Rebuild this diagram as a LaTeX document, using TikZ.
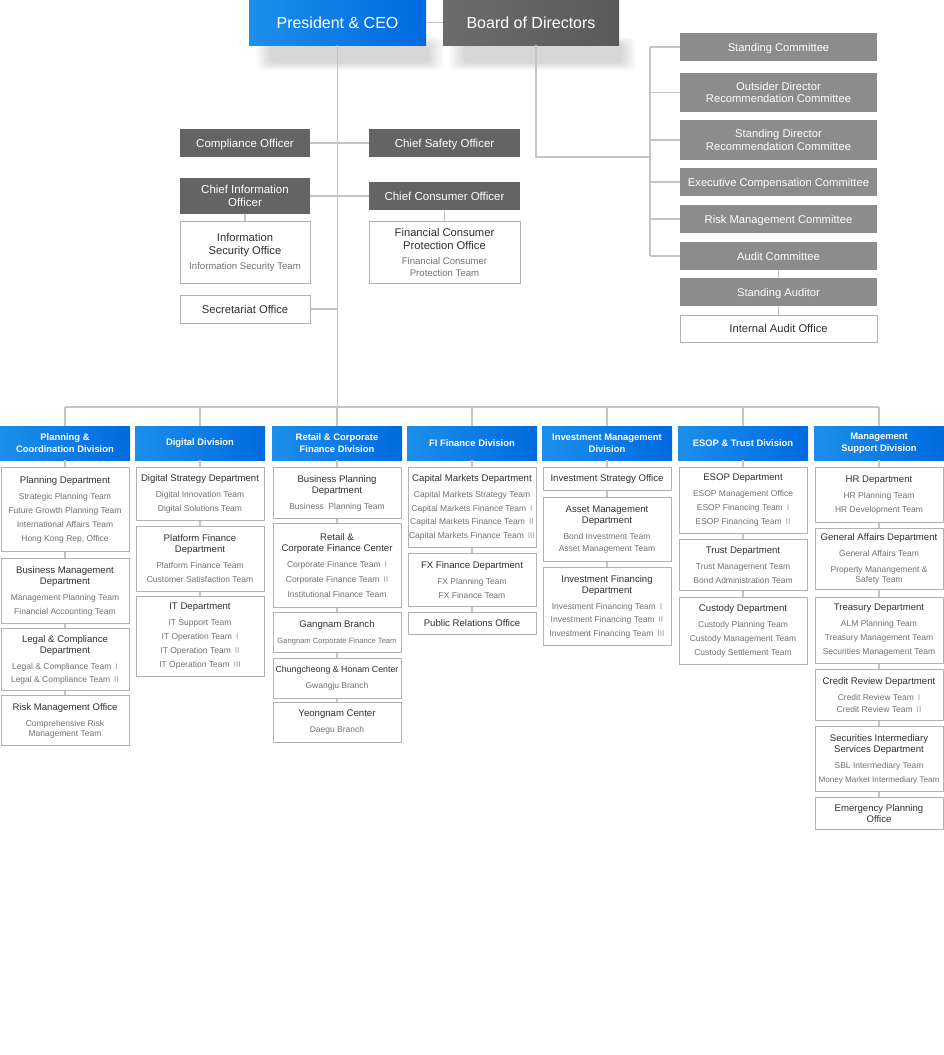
\documentclass[tikz,border=0pt]{standalone}
\usepackage{fontspec}
\setmainfont{Liberation Sans}

\definecolor{blueL}{HTML}{1C8FEA}
\definecolor{blueR}{HTML}{006ADF}
\definecolor{boardL}{HTML}{6C6C6C}
\definecolor{boardR}{HTML}{5A5A5A}
\definecolor{offc}{HTML}{646464}
\definecolor{cmtec}{HTML}{8C8C8C}
\definecolor{linec}{HTML}{C4C4C4}
\definecolor{framec}{HTML}{B2B2B2}
\definecolor{headc}{HTML}{303030}
\definecolor{teamc}{HTML}{727272}
\definecolor{romc}{HTML}{A0A0A0}

% heading and team lines inside the white boxes
\newcommand\hd[2][9.6]{{\fontsize{#1}{11}\selectfont\color{headc}#2\par}}
\newcommand\tm[2][14]{\par\vspace{\dimexpr16pt-#1pt\relax}{\fontsize{8.5}{#1}\selectfont\color{teamc}#2\par}}
\newcommand\ohd[1]{{\fontsize{11.2}{13}\selectfont\color{headc}#1\par}}
\newcommand\otm[1]{\par\vspace{3pt}{\fontsize{9.6}{12}\selectfont\color{teamc}#1\par}}
\newcommand\rn[1]{\hspace{4pt}{\color{romc}#1}}

\tikzset{
  conn/.style={draw=linec, line width=1.2pt},
  oneline/.style={text height=8pt, text depth=0pt},
  topbox/.style={minimum height=45pt, inner sep=0pt, text=white, text height=11.5pt, text depth=0pt, font=\fontsize{16}{18}\selectfont},
  offbox/.style={fill=offc, text=white, inner sep=0pt, align=center, font=\fontsize{11.5}{13}\selectfont},
  cmtebox/.style={fill=cmtec, text=white, minimum width=197pt, inner sep=0pt, align=center, font=\fontsize{11.2}{12.5}\selectfont},
  whitebox/.style={draw=framec, line width=0.9pt, fill=white, inner xsep=0pt, inner ysep=1pt, align=flush center},
  divbox/.style={left color=blueL, right color=blueR, anchor=north, minimum width=130pt, minimum height=34pt, inner sep=0pt, text=white, align=center, font=\bfseries\fontsize{9.4}{11.5}\selectfont},
  deptbox/.style={draw=framec, line width=0.9pt, fill=white, anchor=north, text width=128pt, inner xsep=0pt, inner ysep=1pt, align=flush center}
}

\begin{document}
\begin{tikzpicture}[x=1pt, y=-1pt]
  \fill[white] (0,0) rectangle (944,1055);
  \useasboundingbox (0,0) rectangle (944,1055);

  % soft shadows under the two top boxes
  \foreach \s in {0,...,7} {
    \fill[black, opacity=0.018, rounded corners=6pt] ({256+2*\s},{37+\s}) rectangle ({443-2*\s},{70-\s});
    \fill[black, opacity=0.018, rounded corners=6pt] ({449+2*\s},{37+\s}) rectangle ({636-2*\s},{70-\s});
  }

  % top
  \node[topbox, left color=blueL, right color=blueR, minimum width=177pt] (ceo) at (337.5,22.5) {President \& CEO};
  \node[topbox, left color=boardL, right color=boardR, minimum width=176pt] (board) at (531,22.5) {Board of Directors};

  % officers
  \node[offbox, oneline, minimum width=130pt, minimum height=28pt] (comp) at (245,143) {Compliance Officer};
  \node[offbox, oneline, minimum width=151pt, minimum height=28pt] (cso) at (444.5,143) {Chief Safety Officer};
  \node[offbox, minimum width=130pt, minimum height=36pt] (cio) at (245,196) {Chief Information\\Officer};
  \node[offbox, oneline, minimum width=151pt, minimum height=28pt] (cco) at (444.5,196) {Chief Consumer Officer};
  \node[whitebox, text width=130pt, minimum height=62pt] (iso) at (245,252)
    {\ohd{Information\\Security Office}\otm{Information Security Team}};
  \node[whitebox, text width=151pt, minimum height=62pt] (fcpo) at (444.5,252)
    {\ohd{Financial Consumer\\Protection Office}\otm{Financial Consumer\\Protection Team}};
  \node[whitebox, text width=130pt, minimum height=28pt] (sec) at (245,309) {\ohd{Secretariat Office}};

  % committees
  \node[cmtebox, oneline, minimum height=28pt] (sc) at (778.5,47) {Standing Committee};
  \node[cmtebox, minimum height=39pt] (odrc) at (778.5,92.5) {Outsider Director\\Recommendation Committee};
  \node[cmtebox, minimum height=40pt] (sdrc) at (778.5,140) {Standing Director\\Recommendation Committee};
  \node[cmtebox, oneline, minimum height=28pt] (ecc) at (778.5,182) {Executive Compensation Committee};
  \node[cmtebox, oneline, minimum height=28pt] (rmc) at (778.5,219) {Risk Management Committee};
  \node[cmtebox, oneline, minimum height=28pt] (ac) at (778.5,256) {Audit Committee};
  \node[cmtebox, oneline, minimum height=28pt] (sa) at (778.5,292) {Standing Auditor};
  \node[whitebox, text width=197pt, minimum height=27pt] (iao) at (778.5,328.5) {\ohd{Internal Audit Office}};

  % divisions
  \node[divbox] (d1) at (65,426) {Planning \&\\Coordination Division};
  \node[divbox] (d2) at (200,426) {Digital Division};
  \node[divbox] (d3) at (337,426) {Retail \& Corporate\\Finance Division};
  \node[divbox] (d4) at (472,426) {FI Finance Division};
  \node[divbox] (d5) at (607,426) {Investment Management\\Division};
  \node[divbox] (d6) at (743,426) {ESOP \& Trust Division};
  \node[divbox] (d7) at (879,426) {Management\\Support Division};

  % planning & coordination
  \node[deptbox, minimum height=84pt] (p1) at (65,467)
    {\hd{Planning Department}\tm{Strategic Planning Team\\Future Growth Planning Team\\International Affairs Team\\Hong Kong Rep, Office}};
  \node[deptbox, minimum height=65pt] (p2) at (65,558)
    {\hd{Business Management\\Department}\tm{Management Planning Team\\Financial Accounting Team}};
  \node[deptbox, minimum height=62pt] (p3) at (65,628)
    {\hd{Legal \& Compliance\\Department}\tm[13]{Legal \& Compliance Team\rn{I}\\Legal \& Compliance Team\rn{II}}};
  \node[deptbox, minimum height=50pt] (p4) at (65,695)
    {\hd{Risk Management Office}\tm[10]{Comprehensive Risk\\Management Team}};

  % digital
  \node[deptbox, minimum height=53pt] (g1) at (200,467)
    {\hd{Digital Strategy Department}\tm{Digital Innovation Team\\Digital Solutions Team}};
  \node[deptbox, minimum height=65pt] (g2) at (200,526)
    {\hd{Platform Finance\\Department}\tm{Platform Finance Team\\Customer Satisfaction Team}};
  \node[deptbox, minimum height=80pt] (g3) at (200,596)
    {\hd{IT Department}\tm{IT Support Team\\IT Operation Team\rn{I}\\IT Operation Team\rn{II}\\IT Operation Team\rn{III}}};

  % retail & corporate finance
  \node[deptbox, minimum height=51pt] (r1) at (337,467)
    {\hd{Business Planning\\Department}\tm{Business~ Planning Team}};
  \node[deptbox, minimum height=84pt] (r2) at (337,523)
    {\hd{Retail \&\\Corporate Finance Center}\tm[15]{Corporate Finance Team\rn{I}\\Corporate Finance Team\rn{II}\\Institutional Finance Team}};
  \node[deptbox, minimum height=40pt] (r3) at (337,612)
    {\hd{Gangnam Branch}\tm{\fontsize{7.6}{14}\selectfont Gangnam Corporate Finance Team}};
  \node[deptbox, minimum height=40pt] (r4) at (337,658)
    {\hd[8.8]{Chungcheong \& Honam Center}\tm{Gwangju Branch}};
  \node[deptbox, minimum height=40pt] (r5) at (337,702)
    {\hd{Yeongnam Center}\tm{Daegu Branch}};

  % FI finance
  \node[deptbox, minimum height=80pt] (f1) at (472,467)
    {\hd{Capital Markets Department}\tm[13.7]{Capital Markets Strategy Team\\Capital Markets Finance Team\rn{I}\\Capital Markets Finance Team\rn{II}\\Capital Markets Finance Team\rn{III}}};
  \node[deptbox, minimum height=53pt] (f2) at (472,553)
    {\hd{FX Finance Department}\tm{FX Planning Team\\FX Finance Team}};
  \node[deptbox, minimum height=22pt] (f3) at (472,612)
    {\hd{Public Relations Office}};

  % investment management
  \node[deptbox, minimum height=23pt] (i1) at (607,467)
    {\hd{Investment Strategy Office}};
  \node[deptbox, minimum height=64pt] (i2) at (607,497)
    {\hd{Asset Management\\Department}\tm[12]{Bond Investment Team\\Asset Management Team}};
  \node[deptbox, minimum height=78pt] (i3) at (607,567)
    {\hd{Investment Financing\\Department}\tm[13.5]{Investment Financing Team\rn{I}\\Investment Financing Team\rn{II}\\Investment Financing Team\rn{III}}};

  % ESOP & trust
  \node[deptbox, minimum height=66pt] (e1) at (743,467)
    {\hd{ESOP Department}\tm{ESOP Management Office\\ESOP Financing Team\rn{I}\\ESOP Financing Team\rn{II}}};
  \node[deptbox, minimum height=51pt] (e2) at (743,539)
    {\hd{Trust Department}\tm{Trust Management Team\\Bond Administration Team}};
  \node[deptbox, minimum height=67pt] (e3) at (743,597)
    {\hd{Custody Department}\tm{Custody Planning Team\\Custody Management Team\\Custody Settlement Team}};

  % management support
  \node[deptbox, minimum height=55pt] (m1) at (879,467)
    {\hd{HR Department}\tm{HR Planning Team\\HR Development Team}};
  \node[deptbox, minimum height=61pt] (m2) at (879,528)
    {\hd{General Affairs Department}\tm{General Affairs Team}\tm[10]{Property Manangement \&\\Safety Team}};
  \node[deptbox, minimum height=66pt] (m3) at (879,597)
    {\hd{Treasury Department}\tm{ALM Planning Team\\Treasury Management Team\\Securities Management Team}};
  \node[deptbox, minimum height=51pt] (m4) at (879,669)
    {\hd{Credit Review Department}\tm[12.5]{Credit Review Team\rn{I}\\Credit Review Team\rn{II}}};
  \node[deptbox, minimum height=65pt] (m5) at (879,726)
    {\hd{Securities Intermediary\\Services Department}\tm{SBL Intermediary Team\\\fontsize{8.1}{14}\selectfont Money Market Intermediary Team}};
  \node[deptbox, minimum height=32pt] (m6) at (879,797)
    {\hd{Emergency Planning\\Office}};

  % connectors
  \coordinate (bus) at (337,407);
  \coordinate (cbus) at (650,157);
  \draw[conn] (ceo.east) -- (board.west);
  \draw[conn] (ceo.south) -- (ceo.south |- bus);
  \draw[conn] ([xshift=5pt]board.south) |- (cbus);
  \draw[conn] (sc.west -| cbus) -- (ac.west -| cbus);
  \foreach \c in {sc,odrc,sdrc,ecc,rmc,ac}
    \draw[conn] (\c.west) -- (\c.west -| cbus);
  \draw[conn] (ac.south) -- (sa.north);
  \draw[conn] (sa.south) -- (iao.north);

  \draw[conn] (comp.east) -- (cso.west);
  \draw[conn] (cio.east) -- (cco.west);
  \draw[conn] (cio.south) -- (iso.north);
  \draw[conn] (cco.south) -- (fcpo.north);
  \draw[conn] (sec.east) -- (sec.east -| ceo.south);

  \draw[conn] (d1.north |- bus) -- (d7.north |- bus);
  \foreach \d in {d1,d2,d3,d4,d5,d6,d7}
    \draw[conn] (\d.north) -- (\d.north |- bus);
  \foreach \a/\b in {d1/p1,p1/p2,p2/p3,p3/p4,
                     d2/g1,g1/g2,g2/g3,
                     d3/r1,r1/r2,r2/r3,r3/r4,r4/r5,
                     d4/f1,f1/f2,f2/f3,
                     d5/i1,i1/i2,i2/i3,
                     d6/e1,e1/e2,e2/e3,
                     d7/m1,m1/m2,m2/m3,m3/m4,m4/m5,m5/m6}
    \draw[conn] (\a.south) -- (\b.north);
\end{tikzpicture}
\end{document}
